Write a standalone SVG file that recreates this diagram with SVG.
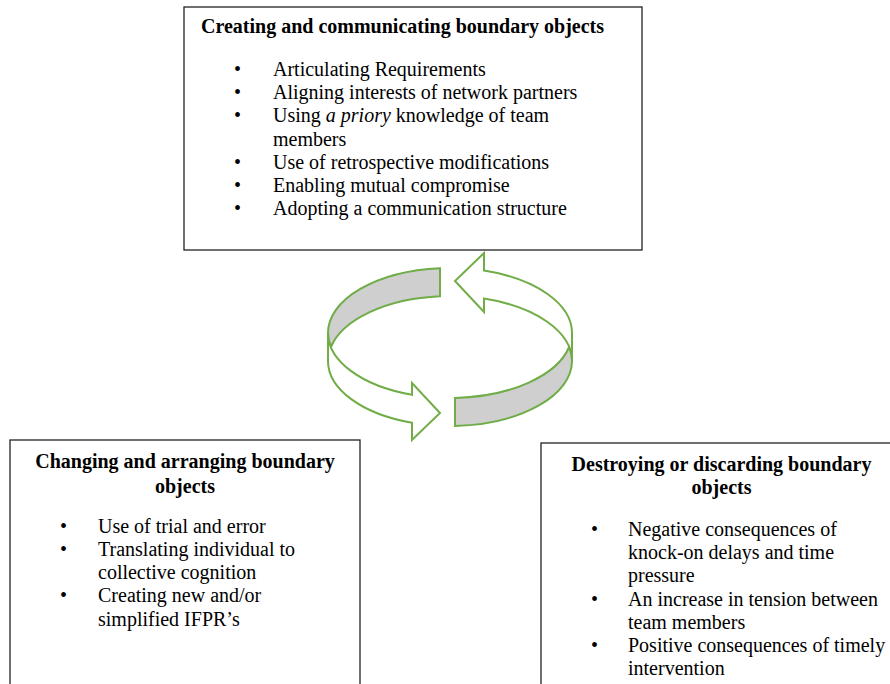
<svg xmlns="http://www.w3.org/2000/svg" width="890" height="684" viewBox="0 0 890 684">
<style>
.box{fill:#fff;stroke:#222;stroke-width:1.3}
.t{font-family:"Liberation Serif","Times New Roman",serif;font-size:20px;fill:#000}
.b{font-weight:bold}
.c{text-anchor:middle}
.ring{stroke:#70AD47;stroke-width:2;stroke-linejoin:miter}
.w{fill:#fff}
.g{fill:#CFCFCF}
</style>
<rect width="890" height="684" fill="#fff"/>
<g id="connectors">
<path class="ring g" d="M440 268.2 A122 65 0 0 0 328 333 A122 65 0 0 0 330.9 347 A122 65 0 0 1 440 296.2 Z"/>
<path class="ring w" d="M328 333 L328 361 A122 65 0 0 0 412 422.8 L412 440 L440 413 L412 383 L412 394.8 A122 65 0 0 1 328 333 Z"/>
<path class="ring w" d="M572 361 L572 333 A122 65 0 0 0 484 270.6 L484 253 L455 281 L484 312 L484 298.6 A122 65 0 0 1 572 361 Z"/>
<path class="ring g" d="M455 397.9 L455 425.9 A122 65 0 0 0 572 361 A122 65 0 0 0 569.1 347 A122 65 0 0 1 455 397.9 Z"/>
</g>
<g id="node-creating">
<rect class="box" x="184" y="7" width="458" height="243"/>
<text class="t b" x="201" y="33">Creating and communicating boundary objects</text>
<text class="t" x="234" y="76">•</text><text class="t" x="273" y="76">Articulating Requirements</text>
<text class="t" x="234" y="99.2">•</text><text class="t" x="273" y="99.2">Aligning interests of network partners</text>
<text class="t" x="234" y="122.4">•</text><text class="t" x="273" y="122.4">Using <tspan font-style="italic">a priory</tspan> knowledge of team</text>
<text class="t" x="273" y="145.6">members</text>
<text class="t" x="234" y="168.8">•</text><text class="t" x="273" y="168.8">Use of retrospective modifications</text>
<text class="t" x="234" y="192">•</text><text class="t" x="273" y="192">Enabling mutual compromise</text>
<text class="t" x="234" y="215.2">•</text><text class="t" x="273" y="215.2">Adopting a communication structure</text>
</g>
<g id="node-changing">
<rect class="box" x="10" y="440" width="350" height="260"/>
<text class="t b c" x="185" y="468">Changing and arranging boundary</text>
<text class="t b c" x="185" y="493">objects</text>
<text class="t" x="60" y="533">•</text><text class="t" x="98" y="533">Use of trial and error</text>
<text class="t" x="60" y="556">•</text><text class="t" x="98" y="556">Translating individual to</text>
<text class="t" x="98" y="579">collective cognition</text>
<text class="t" x="60" y="602">•</text><text class="t" x="98" y="602">Creating new and/or</text>
<text class="t" x="98" y="626">simplified IFPR’s</text>
</g>
<g id="node-destroying">
<rect class="box" x="541" y="443" width="360" height="260"/>
<text class="t b c" x="721.5" y="471">Destroying or discarding boundary</text>
<text class="t b c" x="721.5" y="494">objects</text>
<text class="t" x="591" y="536">•</text><text class="t" x="628" y="536">Negative consequences of</text>
<text class="t" x="628" y="559">knock-on delays and time</text>
<text class="t" x="628" y="582">pressure</text>
<text class="t" x="591" y="605.5">•</text><text class="t" x="628" y="605.5">An increase in tension between</text>
<text class="t" x="628" y="628.5">team members</text>
<text class="t" x="591" y="652">•</text><text class="t" x="628" y="652">Positive consequences of timely</text>
<text class="t" x="628" y="675">intervention</text>
</g>
</svg>
